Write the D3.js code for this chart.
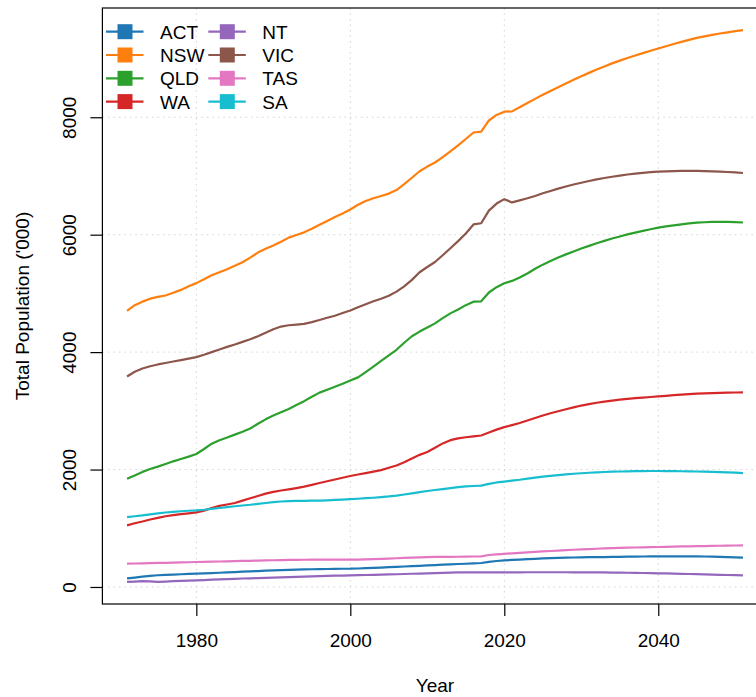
<!DOCTYPE html>
<html>
<head>
<meta charset="utf-8">
<script src="https://cdn.jsdelivr.net/npm/d3@7"></script>
<style>
  html, body { margin: 0; padding: 0; background: #fff; }
  svg { display: block; font-family: "Liberation Sans", Arial, Helvetica, sans-serif; }
</style>
</head>
<body>
<svg id="chart" width="756" height="697"></svg>
<script>
const years = d3.range(1971, 2052);
const seriesNames = ["ACT", "NSW", "QLD", "WA", "NT", "VIC", "TAS", "SA"];
const seriesColors = ["#1f77b4", "#ff7f0e", "#2ca02c", "#d62728", "#9467bd", "#8c564b", "#e377c2", "#17becf"];
const xTicks = [1980, 2000, 2020, 2040];
const yTicks = [0, 2000, 4000, 6000, 8000];

const ACT = [147,160,175,190,200,207,212,217,222,226,231,236,242,248,254,260,266,271,277,282,
  287,292,296,299,302,304,306,308,310,311,315,320,325,331,337,343,349,355,361,367,
  373,380,386,391,396,402,408,428,442,453,460,467,474,480,486,491,495,499,502,505,
  507,509,510,512,514,516,518,519,520,521,521,521,521,521,520,519,516,513,509,504,499];
const NSW = [4703,4800,4860,4910,4940,4965,5010,5060,5120,5175,5240,5310,5360,5410,5470,5530,5610,5695,5760,5815,
  5880,5950,5995,6040,6100,6170,6235,6300,6360,6430,6510,6575,6620,6660,6700,6760,6860,6970,7080,7160,
  7230,7320,7420,7520,7630,7740,7755,7945,8040,8095,8100,8172,8243,8313,8382,8448,8512,8575,8637,8698,
  8756,8812,8866,8918,8965,9010,9052,9093,9133,9172,9210,9247,9283,9318,9352,9378,9403,9426,9447,9467,9485];
const QLD = [1843,1900,1960,2010,2050,2095,2140,2180,2220,2265,2350,2440,2500,2545,2595,2645,2700,2780,2855,2920,
  2975,3030,3100,3165,3240,3310,3360,3410,3460,3516,3570,3660,3754,3850,3945,4040,4160,4270,4350,4420,
  4490,4580,4660,4725,4800,4860,4865,5015,5106,5174,5213,5270,5340,5420,5490,5550,5610,5665,5715,5765,
  5810,5855,5895,5935,5970,6005,6035,6065,6093,6120,6142,6160,6177,6192,6204,6212,6217,6219,6219,6215,6208];
const WA = [1049,1085,1115,1150,1178,1205,1225,1240,1255,1270,1300,1345,1382,1405,1430,1470,1510,1550,1590,1620,
  1643,1663,1685,1710,1740,1770,1800,1830,1860,1890,1915,1940,1965,1990,2030,2070,2125,2190,2250,2300,
  2370,2445,2500,2530,2550,2565,2580,2630,2680,2722,2757,2792,2835,2878,2920,2958,2994,3028,3060,3090,
  3115,3138,3158,3175,3190,3203,3215,3226,3236,3245,3256,3266,3276,3285,3292,3298,3303,3307,3310,3312,3313];
const NT = [86,92,98,95,88,92,98,104,109,113,118,124,129,134,139,144,148,152,156,160,
  164,168,172,176,180,184,188,192,195,198,201,204,207,210,213,217,221,225,229,233,
  237,241,245,248,249,249,249,249,249,249,250,250,251,251,251,251,251,251,250,250,
  249,248,247,245,244,242,240,238,235,233,230,227,224,221,218,214,211,207,204,201,198];
const VIC = [3585,3665,3720,3760,3790,3815,3840,3865,3890,3915,3955,4000,4045,4090,4130,4175,4220,4270,4330,4390,
  4435,4458,4468,4480,4510,4548,4585,4620,4665,4710,4765,4815,4865,4910,4960,5030,5120,5230,5360,5450,
  5535,5650,5770,5890,6020,6175,6195,6410,6530,6605,6550,6585,6620,6660,6705,6745,6785,6820,6855,6885,
  6915,6942,6965,6987,7007,7025,7040,7053,7064,7073,7080,7084,7086,7087,7086,7083,7080,7075,7068,7060,7051];
const TAS = [397,400,403,406,409,412,415,418,421,425,428,431,434,437,440,443,446,449,452,455,
  458,461,463,464,465,466,466,465,465,465,466,469,473,478,484,489,494,499,504,509,
  512,513,514,515,517,519,521,545,556,565,573,581,589,597,605,613,620,627,634,640,
  646,651,656,661,665,669,672,675,678,681,684,687,690,692,695,697,699,702,704,706,708];
const SA = [1191,1205,1220,1238,1255,1268,1280,1290,1298,1304,1315,1330,1345,1360,1375,1388,1400,1415,1430,1445,
  1456,1462,1465,1468,1470,1472,1476,1482,1488,1495,1503,1512,1520,1530,1542,1557,1575,1595,1615,1635,
  1652,1668,1685,1700,1712,1720,1725,1755,1780,1795,1810,1826,1845,1862,1878,1892,1905,1917,1928,1937,
  1945,1952,1958,1963,1967,1970,1972,1974,1975,1975,1974,1973,1971,1969,1967,1964,1960,1956,1951,1946,1940];

const seriesValues = [ACT, NSW, QLD, WA, NT, VIC, TAS, SA];

const svg = d3.select("#chart");
const plot = { left: 102.4, right: 767.6, top: 8, bottom: 604 };

// R-style 4% axis extension
function rExtent(ext) {
  const pad = (ext[1] - ext[0]) * 0.04;
  return [ext[0] - pad, ext[1] + pad];
}
const x = d3.scaleLinear().domain(rExtent(d3.extent(years))).range([plot.left, plot.right]);
const allVals = seriesValues.flat();
const y = d3.scaleLinear().domain(rExtent(d3.extent(allVals))).range([plot.bottom, plot.top]);

// grid
const grid = svg.append("g").attr("stroke", "#d3d3d3").attr("stroke-width", 1).attr("stroke-dasharray", "1.5,4");
grid.selectAll("line.gx").data(xTicks).join("line")
  .attr("x1", d => x(d)).attr("x2", d => x(d)).attr("y1", plot.top).attr("y2", plot.bottom);
grid.selectAll("line.gy").data(yTicks).join("line")
  .attr("y1", d => y(d)).attr("y2", d => y(d)).attr("x1", plot.left).attr("x2", plot.right);

// lines
const line = d3.line().x((d, i) => x(years[i])).y(d => y(d));
svg.append("g").selectAll("path").data(seriesValues).join("path")
  .attr("d", d => line(d))
  .attr("fill", "none")
  .attr("stroke", (d, i) => seriesColors[i])
  .attr("stroke-width", 2.2)
  .attr("stroke-linejoin", "round");

// box
svg.append("rect").attr("x", plot.left).attr("y", plot.top)
  .attr("width", plot.right - plot.left).attr("height", plot.bottom - plot.top)
  .attr("fill", "none").attr("stroke", "#000").attr("stroke-width", 1.2);

// axes
const xAxis = svg.append("g").attr("transform", `translate(0,${plot.bottom})`)
  .call(d3.axisBottom(x).tickValues(xTicks).tickSize(12).tickPadding(6).tickFormat(d3.format("d")));
xAxis.select(".domain").remove();
xAxis.selectAll(".tick line").attr("stroke", "#000").attr("stroke-width", 1.2);
xAxis.selectAll(".tick text").attr("font-size", 19).attr("fill", "#000")
  .attr("y", 43).attr("dy", 0);

const yAxis = svg.append("g").attr("transform", `translate(${plot.left},0)`)
  .call(d3.axisLeft(y).tickValues(yTicks).tickSize(12).tickFormat(d3.format("d")));
yAxis.select(".domain").remove();
yAxis.selectAll(".tick line").attr("stroke", "#000").attr("stroke-width", 1.2);
yAxis.selectAll(".tick text")
  .attr("font-size", 19).attr("fill", "#000")
  .attr("x", null).attr("dy", 0)
  .attr("text-anchor", "middle")
  .attr("transform", "translate(-26,0) rotate(-90)");

// axis titles
svg.append("text").attr("x", (plot.left + plot.right) / 2).attr("y", 692)
  .attr("text-anchor", "middle").attr("font-size", 19).attr("fill", "#000").text("Year");
svg.append("text").attr("transform", `translate(29,${(plot.top + plot.bottom) / 2}) rotate(-90)`)
  .attr("text-anchor", "middle").attr("font-size", 19).attr("fill", "#000").text("Total Population ('000)");

// legend
const legend = svg.append("g");
const rowH = 23.3;
seriesNames.forEach((name, i) => {
  const col = Math.floor(i / 4), row = i % 4;
  const lx = 106 + col * 102.3;
  const ly = 31.7 + row * rowH;
  const g = legend.append("g").attr("transform", `translate(${lx},${ly})`);
  g.append("line").attr("x1", 0).attr("x2", 37.5).attr("y1", 0).attr("y2", 0)
    .attr("stroke", seriesColors[i]).attr("stroke-width", 2.2);
  g.append("rect").attr("x", 19 - 7.5).attr("y", -7.5).attr("width", 15).attr("height", 15)
    .attr("fill", seriesColors[i]);
  g.append("text").attr("x", 54).attr("y", 7).attr("font-size", 19).attr("fill", "#000").text(name);
});
</script>
</body>
</html>
